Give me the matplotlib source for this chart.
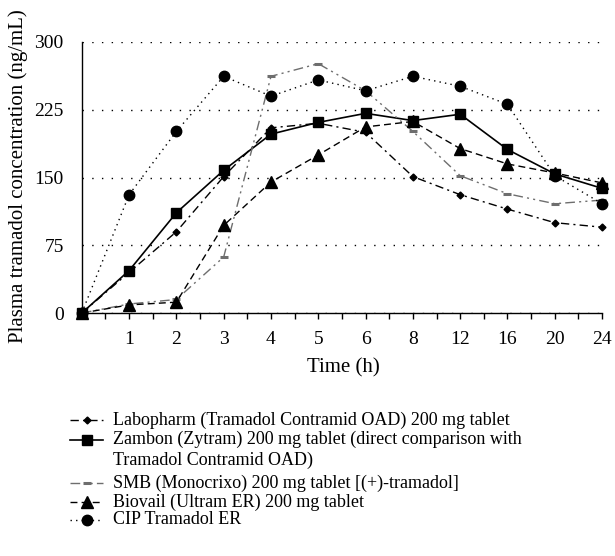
import matplotlib
matplotlib.use("Agg")
import matplotlib.pyplot as plt
from matplotlib.lines import Line2D
import numpy as np

plt.rcParams['font.family'] = ['Liberation Serif', 'DejaVu Serif']

time_labels = ["0", "1", "2", "3", "4", "5", "6", "8", "12", "16", "20", "24"]
labopharm = [0, 45, 90, 151, 205, 210, 200, 151, 131, 115, 100, 95]
zambon = [0, 47, 111, 158, 198, 211, 221, 213, 220, 181, 154, 138]
smb = [0, 10, 15, 62, 262, 276, 246, 201, 152, 132, 121, 125]
biovail = [0, 9, 12, 97, 145, 175, 206, 212, 182, 165, 155, 144]
cip = [0, 131, 201, 262, 240, 258, 246, 262, 251, 231, 152, 121]

legend_labels = [
    "Labopharm (Tramadol Contramid OAD) 200 mg tablet",
    "Zambon (Zytram) 200 mg tablet (direct comparison with\nTramadol Contramid OAD)",
    "SMB (Monocrixo) 200 mg tablet [(+)-tramadol]",
    "Biovail (Ultram ER) 200 mg tablet",
    "CIP Tramadol ER",
]

gray = "#6e6e6e"
styles = [
    dict(color="black", linestyle=(0, (6, 3, 1.5, 3)), marker="D", markersize=3.5, lw=1.0),
    dict(color="black", linestyle="-", marker="s", markersize=7.5, lw=1.2),
    dict(color=gray, linestyle=(0, (7, 3, 1.5, 3, 1.5, 3)), marker="_", markersize=6, markeredgewidth=2.2, lw=1.0),
    dict(color="black", linestyle=(0, (5, 3)), marker="^", markersize=8, lw=1.0),
    dict(color="black", linestyle=(0, (1, 3)), marker="o", markersize=7.5, lw=1.0),
]
series = [labopharm, zambon, smb, biovail, cip]

fig = plt.figure(figsize=(6.15, 5.56), dpi=100)
ax = fig.add_axes([0.133, 0.437, 0.846, 0.4875])

x = np.arange(len(time_labels))
order = [2, 0, 3, 4, 1]
for i in order:
    st = dict(styles[i])
    ax.plot(x, series[i], clip_on=False, zorder=3 + i, **st)

ax.set_xlim(0, len(time_labels) - 1)
ax.set_ylim(0, 300)
ax.set_yticks([0, 75, 150, 225, 300])
ax.set_xticks(x[1:])
ax.set_xticklabels(time_labels[1:])
ax.set_xticks(np.arange(0.5, len(time_labels) - 1, 1.0), minor=True)
ax.tick_params(axis='x', which='both', direction='out', length=4, width=1, labelsize=14, pad=9)
ax.tick_params(axis='y', length=0, labelsize=14, pad=13)
for s in ['top', 'right']:
    ax.spines[s].set_visible(False)
ax.spines['left'].set_linewidth(1.0)
ax.spines['bottom'].set_linewidth(1.0)
ax.grid(axis='y', linestyle=(0, (1, 6)), color='black', linewidth=1.0)
ax.set_axisbelow(True)

ax.set_xlabel("Time (h)", fontsize=15)
ax.set_ylabel("Plasma tramadol concentration (ng/mL)", fontsize=15)
ax.xaxis.set_label_coords(0.503, -0.165)
ax.yaxis.set_label_coords(-0.123, 0.505)
ax.yaxis.label.set_va('center')

# Legend drawn manually below the chart
W, H = 615.0, 556.0
rows_y = [420, 440, 483, 502, 520]
for i, (lab, ry) in enumerate(zip(legend_labels, rows_y)):
    st = dict(styles[i])
    yf = 1 - ry / H
    ms = st.pop('markersize')
    mew = st.pop('markeredgewidth', None)
    ln = Line2D([70 / W, 103 / W], [yf, yf], transform=fig.transFigure, **st,
                markevery=[])
    fig.add_artist(ln)
    mk = Line2D([86.5 / W], [yf], transform=fig.transFigure, color=st['color'],
                marker=st['marker'], markersize=ms,
                markeredgewidth=(mew if mew else 1.0), linestyle='none')
    fig.add_artist(mk)
    if '\n' in lab:
        fig.text(113 / W, yf + 9.5 / H, lab, fontsize=13, va='top', ha='left', linespacing=1.3)
    else:
        fig.text(113 / W, yf, lab, fontsize=13, va='center', ha='left')

fig.savefig("out.png", dpi=100)
